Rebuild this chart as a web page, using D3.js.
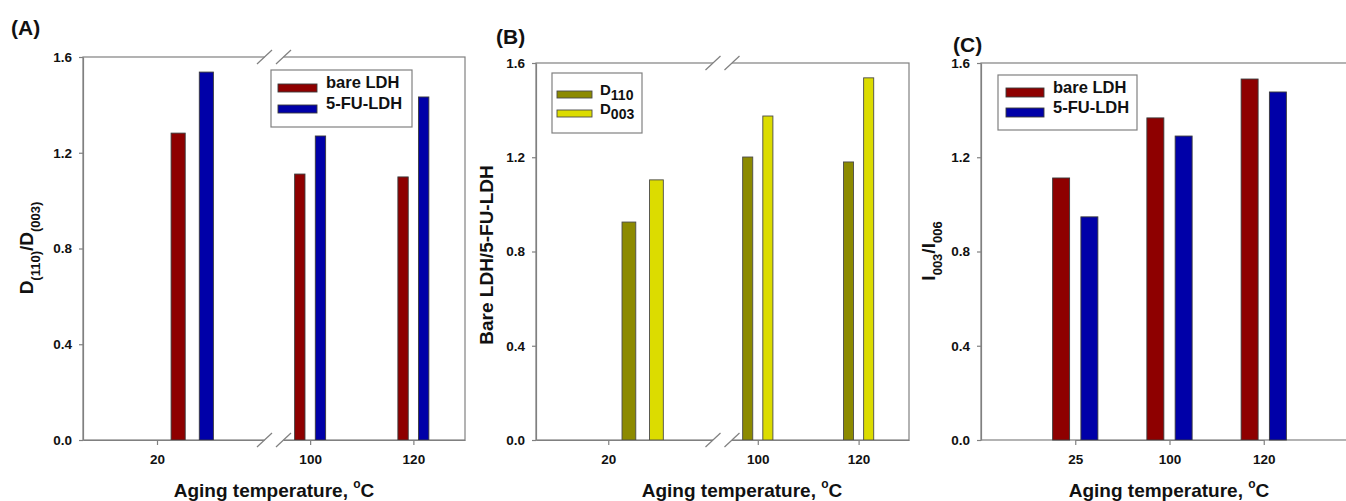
<!DOCTYPE html>
<html>
<head>
<meta charset="utf-8">
<script src="https://cdn.jsdelivr.net/npm/d3@7"></script>
<style>
  body { margin: 0; background: #fff; }
  svg { display: block; }
</style>
</head>
<body>
<script>
// ---- data ----
const tempsAB = [25, 100, 120];        // bar positions (°C)
const ticksAB = [20, 100, 120];        // tick labels on the broken axis
const bareA = [1.282, 1.111, 1.099];   // D(110)/D(003), bare LDH
const fuA = [1.537, 1.270, 1.433];     // D(110)/D(003), 5-FU-LDH
const d110B = [0.925, 1.201, 1.180];   // bare LDH / 5-FU-LDH, D110
const d003B = [1.104, 1.375, 1.537];   // bare LDH / 5-FU-LDH, D003
const tempsC = ['25', '100', '120'];
const bareC = [1.112, 1.367, 1.532];   // I003/I006, bare LDH
const fuC = [0.947, 1.290, 1.477];     // I003/I006, 5-FU-LDH
const yTicks = [0, 0.4, 0.8, 1.2, 1.6];
const brokenDomain = [9.5, 36.6, 93, 130];

const FONT = '"Liberation Sans", Arial, Helvetica, sans-serif';
const AXIS = '#808080';
const COLORS = { red: '#8e0000', blue: '#0000a8', olive: '#8c8a00', yellow: '#dcdc00' };

const svg = d3.select('body').append('svg')
  .attr('width', 1346).attr('height', 501)
  .style('font-family', FONT);

// text with sub/superscripts: parts = [[text, 'sub'|'sup'|null, size]]
const richText = (sel, parts, base) => {
  let shift = 0;
  parts.forEach(([t, kind, size]) => {
    const target = kind === 'sub' ? base * 0.38 : kind === 'sup' ? -base * 0.45 : 0;
    sel.append('tspan')
      .attr('dy', target - shift)
      .style('font-size', (size || base) + 'px')
      .text(t);
    shift = target;
  });
};

const drawPanel = (p) => {
  const y = d3.scaleLinear().domain([0, 1.6]).range([p.bottom, p.top]);
  const g = svg.append('g');

  // frame
  g.append('rect')
    .attr('x', p.left).attr('y', p.top)
    .attr('width', p.right - p.left).attr('height', p.bottom - p.top)
    .attr('fill', 'none').attr('stroke', AXIS).attr('stroke-width', 1.2);

  // bars
  p.series.forEach((s, si) => {
    s.values.forEach((v, i) => {
      const [x0, x1] = p.barSpan(i, si);
      g.append('rect')
        .attr('x', x0).attr('y', y(v))
        .attr('width', x1 - x0).attr('height', y(0) - y(v))
        .attr('fill', s.color).attr('stroke', p.barStroke).attr('stroke-width', 0.9);
    });
  });

  // y axis
  const ya = g.append('g').attr('transform', `translate(${p.left},0)`)
    .call(d3.axisLeft(y).tickValues(yTicks).tickFormat(d3.format('.1f')).tickSize(4).tickSizeOuter(0));
  ya.select('.domain').attr('stroke', AXIS).attr('stroke-width', 1.2);
  ya.selectAll('.tick line').attr('stroke', AXIS).attr('stroke-width', 1.2);
  ya.selectAll('.tick text').attr('x', -11).attr('fill', '#111')
    .style('font-size', '13.5px').style('font-weight', 'bold').style('font-family', FONT);

  // x axis
  const xa = g.append('g').attr('transform', `translate(0,${p.bottom})`)
    .call(d3.axisBottom(p.x).tickValues(p.ticks).tickSize(5).tickSizeOuter(0));
  xa.select('.domain').attr('stroke', AXIS).attr('stroke-width', 1.2);
  xa.selectAll('.tick line').attr('stroke', AXIS).attr('stroke-width', 1.2);
  xa.selectAll('.tick text').attr('y', 14).attr('fill', '#111')
    .style('font-size', '13.5px').style('font-weight', 'bold').style('font-family', FONT);

  // axis break marks
  if (p.breakX != null) {
    [p.top, p.bottom].forEach(yy => {
      g.append('rect').attr('x', p.breakX - 9.5).attr('y', yy - 2)
        .attr('width', 19).attr('height', 4).attr('fill', '#fff');
      [-1, 1].forEach(side => {
        const cx = p.breakX + side * 9.5;
        g.append('line')
          .attr('x1', cx - 7.5).attr('y1', yy + 7)
          .attr('x2', cx + 7.5).attr('y2', yy - 7)
          .attr('stroke', AXIS).attr('stroke-width', 1.2);
      });
    });
  }

  // legend
  const L = p.legend;
  g.append('rect').attr('x', L.x).attr('y', L.y).attr('width', L.w).attr('height', L.h)
    .attr('fill', '#fff').attr('stroke', AXIS).attr('stroke-width', 1.2);
  p.series.forEach((s, si) => {
    const cy = L.rows[si];
    g.append('rect')
      .attr('x', L.x + L.sx).attr('y', cy - L.sh / 2)
      .attr('width', L.sw).attr('height', L.sh)
      .attr('fill', s.color).attr('stroke', p.barStroke).attr('stroke-width', 0.9);
    const t = g.append('text')
      .attr('x', L.x + L.tx).attr('y', cy).attr('dy', '0.36em')
      .style('font-size', L.fs + 'px').style('font-weight', 'bold').attr('fill', '#111');
    richText(t, s.label, L.fs);
  });

  // panel letter
  g.append('text').attr('x', p.letter[0]).attr('y', p.letter[1])
    .style('font-size', '21px').style('font-weight', 'bold').attr('fill', '#111')
    .text(p.name);

  // x title
  const xt = g.append('text').attr('x', p.xTitleX).attr('y', 497)
    .attr('text-anchor', 'middle')
    .style('font-size', '19px').style('font-weight', 'bold').attr('fill', '#111');
  richText(xt, [['Aging temperature, ', null], ['o', 'sup', 12], ['C', null]], 19);

  // y title
  const yt = g.append('text')
    .attr('transform', `translate(${p.yTitle[0]},${p.yTitle[1]}) rotate(-90)`)
    .attr('text-anchor', 'middle')
    .style('font-size', '19px').style('font-weight', 'bold').attr('fill', '#111');
  richText(yt, p.yTitleParts, 19);
};

// broken x scale for panels A and B
const brokenX = (left, right) => {
  const mid = (left + right) / 2;
  return d3.scaleLinear().domain(brokenDomain).range([left, mid, mid, right]);
};
const pairSpan = (x, t, si) => si === 0 ? [x(t - 3), x(t - 1)] : [x(t + 1), x(t + 3)];

const xA = brokenX(83, 465);
drawPanel({
  name: '(A)', letter: [11, 35],
  left: 83, right: 465, top: 57, bottom: 440,
  x: xA, ticks: ticksAB, breakX: (83 + 465) / 2,
  barSpan: (i, si) => pairSpan(xA, tempsAB[i], si),
  barStroke: '#3a3a3a',
  series: [
    { values: bareA, color: COLORS.red, label: [['bare LDH', null]] },
    { values: fuA, color: COLORS.blue, label: [['5-FU-LDH', null]] },
  ],
  legend: { x: 271, y: 70, w: 141, h: 57, sx: 7, sw: 39, sh: 8, tx: 55, fs: 16.5, rows: [88, 109] },
  xTitleX: 274,
  yTitle: [33, 248],
  yTitleParts: [['D', null], ['(110)', 'sub', 13], ['/D', null], ['(003)', 'sub', 13]],
});

const xB = brokenX(536, 909);
drawPanel({
  name: '(B)', letter: [496, 44],
  left: 536, right: 909, top: 63, bottom: 440,
  x: xB, ticks: ticksAB, breakX: (536 + 909) / 2,
  barSpan: (i, si) => pairSpan(xB, tempsAB[i], si),
  barStroke: '#4a4a4a',
  series: [
    { values: d110B, color: COLORS.olive, label: [['D', null], ['110', 'sub', 14]] },
    { values: d003B, color: COLORS.yellow, label: [['D', null], ['003', 'sub', 14]] },
  ],
  legend: { x: 552, y: 73, w: 90, h: 60, sx: 5, sw: 35, sh: 7, tx: 48, fs: 15, rows: [94.5, 113.5] },
  xTitleX: 742,
  yTitle: [493, 255],
  yTitleParts: [['Bare LDH/5-FU-LDH', null]],
});

const xC = d3.scaleLinear().domain([0, 4]).range([981, 1358]);
drawPanel({
  name: '(C)', letter: [953, 52],
  left: 981, right: 1358, top: 63, bottom: 440,
  x: d3.scalePoint().domain(tempsC).range([xC(1), xC(3)]), ticks: tempsC, breakX: null,
  barSpan: (i, si) => {
    const c = i + 1 + (si === 0 ? -0.15 : 0.15);
    return [xC(c - 0.09), xC(c + 0.09)];
  },
  barStroke: '#3a3a3a',
  series: [
    { values: bareC, color: COLORS.red, label: [['bare LDH', null]] },
    { values: fuC, color: COLORS.blue, label: [['5-FU-LDH', null]] },
  ],
  legend: { x: 998, y: 75, w: 139, h: 55, sx: 8, sw: 38, sh: 9, tx: 55, fs: 16.5, rows: [92.5, 112.5] },
  xTitleX: 1169,
  yTitle: [935, 251],
  yTitleParts: [['I', null], ['003', 'sub', 13], ['/I', null], ['006', 'sub', 13]],
});
</script>
</body>
</html>
